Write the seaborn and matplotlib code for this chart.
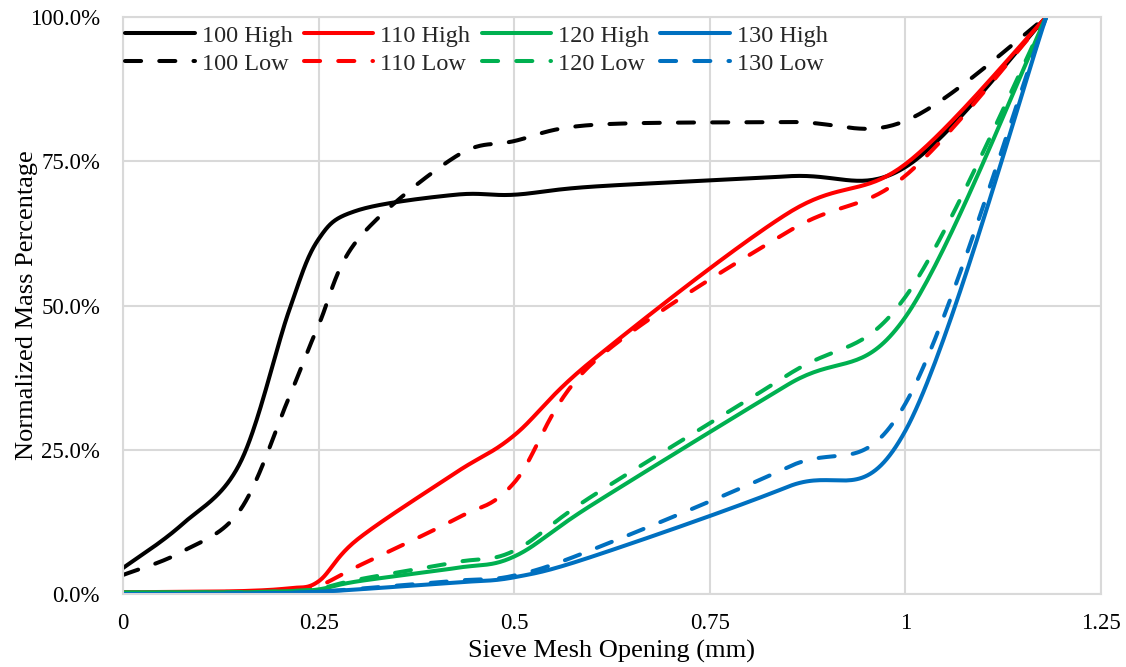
import numpy as np
import pandas as pd
import seaborn as sns
import matplotlib
matplotlib.use("Agg")
import matplotlib.pyplot as plt
from matplotlib.ticker import PercentFormatter

sns.set_theme(style="whitegrid")
plt.rcParams["font.family"] = ["Liberation Serif", "DejaVu Serif"]

# sieve openings (mm) and cumulative passing (%)
sieve = [0, 0.075, 0.15, 0.212, 0.25, 0.3, 0.425, 0.5, 0.6, 0.85, 1.0, 1.18]

high_100 = [4.5, 12.0, 22.8, 49.0, 61.5, 66.5, 69.2, 69.2, 70.6, 72.4, 74.0, 100]
low_100 = [3.3, 7.3, 14.6, 34.0, 46.6, 61.4, 75.8, 78.5, 81.3, 81.8, 82.0, 100]
high_110 = [0.3, 0.4, 0.5, 1.0, 2.2, 9.5, 21.0, 27.5, 40.5, 66.0, 74.5, 100]
low_110 = [0.3, 0.3, 0.4, 0.6, 1.4, 4.8, 13.0, 19.3, 40.0, 62.8, 72.5, 100]
high_120 = [0.3, 0.3, 0.3, 0.5, 0.8, 2.2, 4.5, 6.5, 15.5, 36.3, 48.0, 100]
low_120 = [0.2, 0.2, 0.3, 0.5, 0.9, 2.5, 5.5, 7.5, 17.0, 38.0, 51.5, 100]
high_130 = [0.0, 0.0, 0.1, 0.2, 0.4, 0.8, 2.0, 2.9, 6.5, 18.6, 28.3, 100]
low_130 = [0.0, 0.0, 0.1, 0.2, 0.4, 0.9, 2.3, 3.2, 7.7, 22.0, 33.0, 100]

series = [
    ("100 High", high_100, "black", "-"),
    ("100 Low", low_100, "black", "--"),
    ("110 High", high_110, "#FF0000", "-"),
    ("110 Low", low_110, "#FF0000", "--"),
    ("120 High", high_120, "#00B050", "-"),
    ("120 Low", low_120, "#00B050", "--"),
    ("130 High", high_130, "#0070C0", "-"),
    ("130 Low", low_130, "#0070C0", "--"),
]


def smooth(xs, ys, n=40):
    # Excel-style smoothed line: cubic Bezier through each point (Catmull-Rom)
    p = np.column_stack([xs, ys]).astype(float)
    p = np.vstack([p[0], p, p[-1]])
    t = np.linspace(0, 1, n)[:, None]
    out = []
    for i in range(1, len(p) - 2):
        p0, p1, p2, p3 = p[i - 1], p[i], p[i + 1], p[i + 2]
        c1 = p1 + (p2 - p0) / 6
        c2 = p2 - (p3 - p1) / 6
        seg = ((1 - t) ** 3) * p1 + 3 * ((1 - t) ** 2) * t * c1 \
            + 3 * (1 - t) * t ** 2 * c2 + t ** 3 * p2
        out.append(seg if i == 1 else seg[1:])
    out = np.vstack(out)
    return out[:, 0], out[:, 1]


fig, ax = plt.subplots(figsize=(11.26, 6.67), dpi=100)
fig.subplots_adjust(left=0.1092, right=0.9778, bottom=0.1094, top=0.9745)

for name, vals, col, ls in series:
    sx, sy = smooth(sieve, vals)
    df = pd.DataFrame({"x": sx, "y": sy})
    sns.lineplot(data=df, x="x", y="y", sort=False, estimator=None,
                 color=col, linewidth=2.9, label=name, ax=ax)
    l = ax.lines[-1]
    if ls == "--":
        l.set_dashes((4, 4.5))
        l.set_dash_capstyle("round")

ax.set_xlim(0, 1.25)
ax.set_ylim(0, 100)
ax.set_xticks([0, 0.25, 0.5, 0.75, 1, 1.25])
ax.set_xticklabels(["0", "0.25", "0.5", "0.75", "1", "1.25"])
ax.set_yticks([0, 25, 50, 75, 100])
ax.yaxis.set_major_formatter(PercentFormatter(100, decimals=1))
ax.tick_params(axis="both", labelsize=16.5, colors="black", length=0)
ax.tick_params(axis="x", pad=14)
ax.tick_params(axis="y", pad=16.5)

ax.grid(True, color="#D9D9D9", linewidth=1.5)
for s in ax.spines.values():
    s.set_color("#D9D9D9")
    s.set_linewidth(1.5)

ax.set_xlabel("Sieve Mesh Opening (mm)", fontsize=19, color="black", labelpad=4)
ax.set_ylabel("Normalized Mass Percentage", fontsize=19, color="black", labelpad=-6)

leg = ax.legend(loc="upper left", bbox_to_anchor=(0.0, 0.991), ncol=4, frameon=False,
                prop={"family": "Liberation Serif", "size": 17.5},
                handlelength=2.85, handletextpad=0.29, columnspacing=0.47,
                labelspacing=0.25, borderaxespad=0.05, borderpad=0.05)

fig.savefig("out.png", dpi=100)
